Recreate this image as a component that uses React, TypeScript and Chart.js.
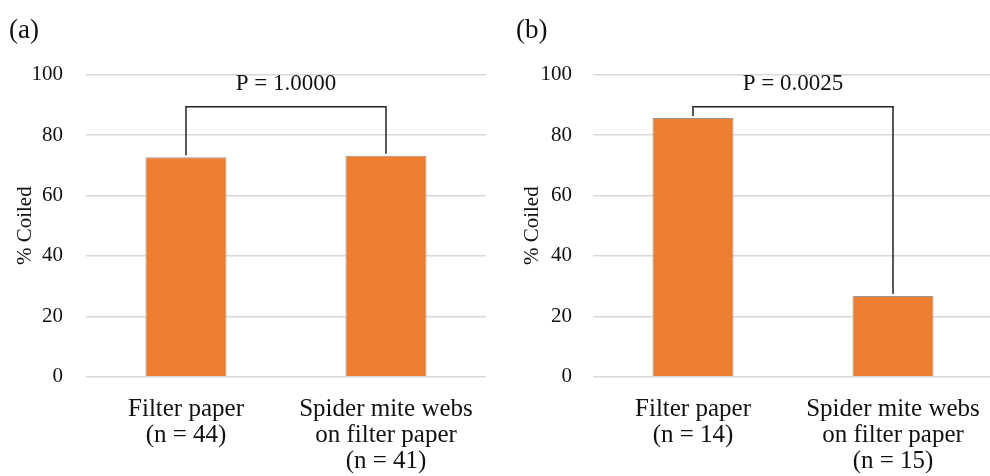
import React, { useEffect, useRef } from "react";
import { Chart, registerables } from "chart.js";

Chart.register(...registerables);

// ---- Data ----
const categoriesA: string[][] = [
  ["Filter paper", "(n = 44)"],
  ["Spider mite webs", "on filter paper", "(n = 41)"],
];
const valuesA: number[] = [72.7, 73.2];
const categoriesB: string[][] = [
  ["Filter paper", "(n = 14)"],
  ["Spider mite webs", "on filter paper", "(n = 15)"],
];
const valuesB: number[] = [85.7, 26.7];
const pLabels: string[] = ["P = 1.0000", "P = 0.0025"];
const bracketTops: number[] = [89.4, 89.4];
const panelLabels: string[] = ["(a)", "(b)"];
const yTicks: number[] = [0, 20, 40, 60, 80, 100];
const yTitle = "% Coiled";

const FONT = "'Liberation Serif', 'Times New Roman', serif";
const BAR_FILL = "#ED7D31";
const BAR_BORDER = "#959595";
const GRID = "#d9d9d9";

const bracketPlugin = {
  id: "bracket",
  afterDatasetsDraw(chart: any, _args: any, opts: any) {
    const x = chart.scales.x;
    const y = chart.scales.y;
    const vals: number[] = chart.data.datasets[0].data;
    const x0 = x.getPixelForValue(0);
    const x1 = x.getPixelForValue(1);
    const yb = y.getPixelForValue(opts.top);
    const y0 = y.getPixelForValue(vals[0]) - 2;
    const y1 = y.getPixelForValue(vals[1]) - 2;
    const ctx = chart.ctx;
    ctx.save();
    ctx.strokeStyle = "#222";
    ctx.lineWidth = 1.5;
    ctx.beginPath();
    ctx.moveTo(x0, y0);
    ctx.lineTo(x0, yb);
    ctx.lineTo(x1, yb);
    ctx.lineTo(x1, y1);
    ctx.stroke();
    ctx.fillStyle = "#111";
    ctx.font = `23px ${FONT}`;
    ctx.textAlign = "center";
    ctx.textBaseline = "middle";
    ctx.fillText(opts.label, (x0 + x1) / 2, yb - 23);
    ctx.restore();
  },
};

function Panel(props: {
  labels: string[][];
  values: number[];
  pLabel: string;
  bracketTop: number;
  left: number;
  width: number;
  tickPad: number;
}) {
  const ref = useRef<HTMLCanvasElement | null>(null);
  useEffect(() => {
    if (!ref.current) return;
    const chart = new Chart(ref.current, {
      type: "bar",
      data: {
        labels: props.labels,
        datasets: [
          {
            data: props.values,
            backgroundColor: BAR_FILL,
            borderColor: BAR_BORDER,
            borderWidth: 1,
            barPercentage: 0.405,
            categoryPercentage: 1,
          },
        ],
      },
      plugins: [bracketPlugin],
      options: {
        animation: false,
        responsive: false,
        maintainAspectRatio: false,
        layout: { padding: { top: 74.7, right: 0, left: 0, bottom: 0 } },
        plugins: {
          legend: { display: false },
          tooltip: { enabled: false },
          bracket: { top: props.bracketTop, label: props.pLabel },
        } as any,
        scales: {
          x: {
            grid: { display: false, drawTicks: false },
            border: { display: false },
            ticks: {
              color: "#111",
              padding: 20,
              font: { family: FONT, size: 25, lineHeight: 1.04 },
              maxRotation: 0,
              autoSkip: false,
            },
            afterFit: (s: any) => {
              s.height = 99.3;
              s.paddingLeft = 0;
              s.paddingRight = 0;
            },
          },
          y: {
            min: 0,
            max: 100,
            afterBuildTicks: (s: any) => {
              s.ticks = yTicks.map((v) => ({ value: v }));
            },
            grid: { color: GRID, lineWidth: 1.5, drawTicks: false },
            border: { display: false },
            ticks: {
              color: "#111",
              padding: props.tickPad,
              font: { family: FONT, size: 21 },
            },
            title: {
              display: true,
              text: yTitle,
              color: "#111",
              font: { family: FONT, size: 21 },
              padding: { top: 13, bottom: 0 },
            },
            afterFit: (s: any) => {
              s.width = 86;
            },
          },
        },
      },
    });
    return () => chart.destroy();
  }, []);
  return (
    <canvas
      ref={ref}
      width={props.width}
      height={476}
      style={{ position: "absolute", left: props.left, top: 0, width: props.width, height: 476 }}
    />
  );
}

export default function App() {
  return (
    <div
      style={{
        position: "absolute",
        left: 0,
        top: 0,
        width: 990,
        height: 476,
        overflow: "hidden",
        background: "#fff",
      }}
    >
      <Panel
        labels={categoriesA}
        values={valuesA}
        pLabel={pLabels[0]}
        bracketTop={bracketTops[0]}
        left={0}
        width={486}
        tickPad={23}
      />
      <Panel
        labels={categoriesB}
        values={valuesB}
        pLabel={pLabels[1]}
        bracketTop={bracketTops[1]}
        left={506.5}
        width={486}
        tickPad={21}
      />
      <div style={{ position: "absolute", left: 9, top: 14, font: `27px ${FONT}`, color: "#111", lineHeight: "30px" }}>
        {panelLabels[0]}
      </div>
      <div style={{ position: "absolute", left: 516, top: 14, font: `27px ${FONT}`, color: "#111", lineHeight: "30px" }}>
        {panelLabels[1]}
      </div>
    </div>
  );
}
